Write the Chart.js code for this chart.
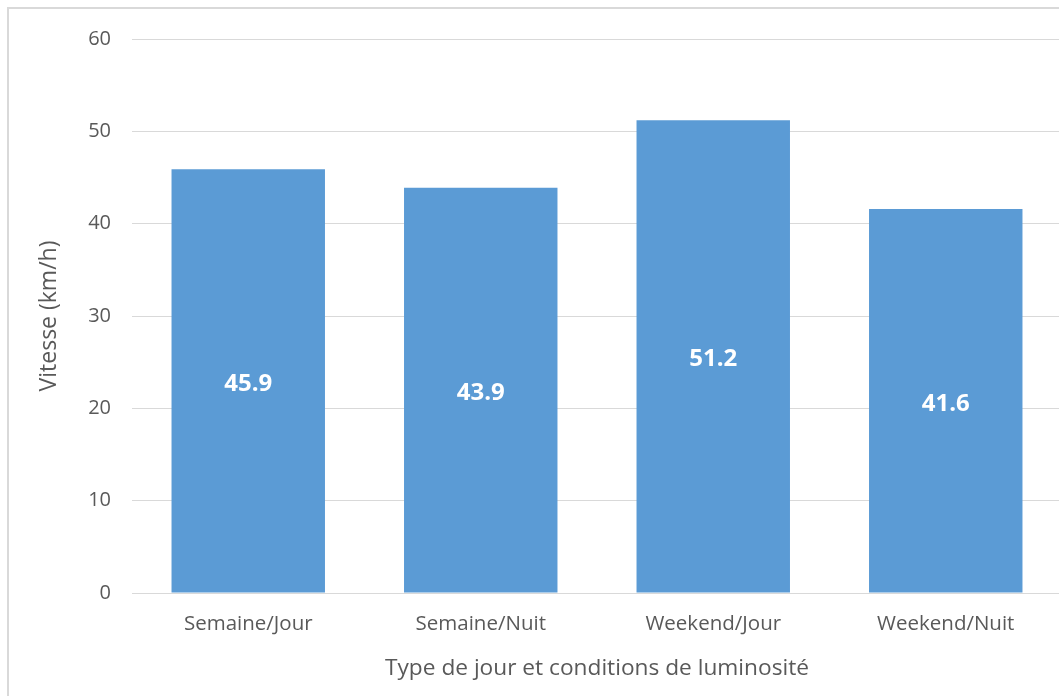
<!DOCTYPE html>
<html lang="fr">
<head>
<meta charset="utf-8">
<title>Vitesse par type de jour</title>
<script src="https://cdn.jsdelivr.net/npm/chart.js@4/dist/chart.umd.min.js"></script>
<style>
  html, body { margin: 0; padding: 0; background: #ffffff; overflow: hidden; }
  #frame {
    position: absolute; left: 7px; top: 7px; width: 1100px; height: 740px;
    border-left: 2px solid #d9d9d9; border-top: 2px solid #d9d9d9;
  }
  #wrap { position: absolute; left: 0; top: 0; width: 1062px; height: 696px; }
</style>
</head>
<body>
<div id="frame"></div>
<div id="wrap"><canvas id="chart"></canvas></div>
<script>
const categories = ['Semaine/Jour', 'Semaine/Nuit', 'Weekend/Jour', 'Weekend/Nuit'];
const vitesse = [45.9, 43.9, 51.2, 41.6];
const yTicks = [0, 10, 20, 30, 40, 50, 60];

const textColor = '#595959';
const gridColor = '#d9d9d9';
const barColor = '#5b9bd5';
const family = '"Open Sans", "Liberation Sans", sans-serif';

// Values written in white at the middle of each bar
const barValueLabels = {
  id: 'barValueLabels',
  afterDatasetsDraw(chart) {
    const { ctx } = chart;
    const meta = chart.getDatasetMeta(0);
    ctx.save();
    ctx.fillStyle = '#ffffff';
    ctx.font = 'bold 24px ' + family;
    ctx.textAlign = 'center';
    ctx.textBaseline = 'middle';
    meta.data.forEach((bar, i) => {
      const mid = (bar.y + bar.base) / 2;
      ctx.fillText(vitesse[i].toFixed(1), bar.x, mid + 3);
    });
    ctx.restore();
  }
};

new Chart(document.getElementById('chart'), {
  type: 'bar',
  data: {
    labels: categories,
    datasets: [{
      data: vitesse,
      backgroundColor: barColor,
      borderWidth: 0,
      categoryPercentage: 0.66,
      barPercentage: 1.0
    }]
  },
  options: {
    responsive: true,
    maintainAspectRatio: false,
    animation: false,
    layout: { padding: { left: 0, right: 0, top: 39, bottom: 0 } },
    plugins: {
      legend: { display: false },
      tooltip: { enabled: false }
    },
    scales: {
      x: {
        grid: { display: false, drawTicks: false },
        border: { display: false },
        ticks: {
          color: textColor,
          font: { family, size: 20.5 },
          padding: 19,
          maxRotation: 0
        },
        title: {
          display: true,
          text: 'Type de jour et conditions de luminosité',
          color: textColor,
          font: { family, size: 22.7 },
          padding: { top: 0, bottom: 14 }
        },
        afterFit(scale) { scale.height = 103; }
      },
      y: {
        min: 0,
        max: 60,
        afterBuildTicks(scale) { scale.ticks = yTicks.map(v => ({ value: v })); },
        grid: { color: gridColor, lineWidth: 1, drawTicks: false },
        border: { display: false },
        ticks: {
          color: textColor,
          font: { family, size: 20 },
          padding: 21
        },
        title: {
          display: true,
          text: 'Vitesse (km/h)',
          color: textColor,
          font: { family, size: 23 },
          padding: { top: 36, bottom: 0 }
        },
        afterFit(scale) { scale.width = 132; }
      }
    }
  },
  plugins: [barValueLabels]
});
</script>
</body>
</html>
